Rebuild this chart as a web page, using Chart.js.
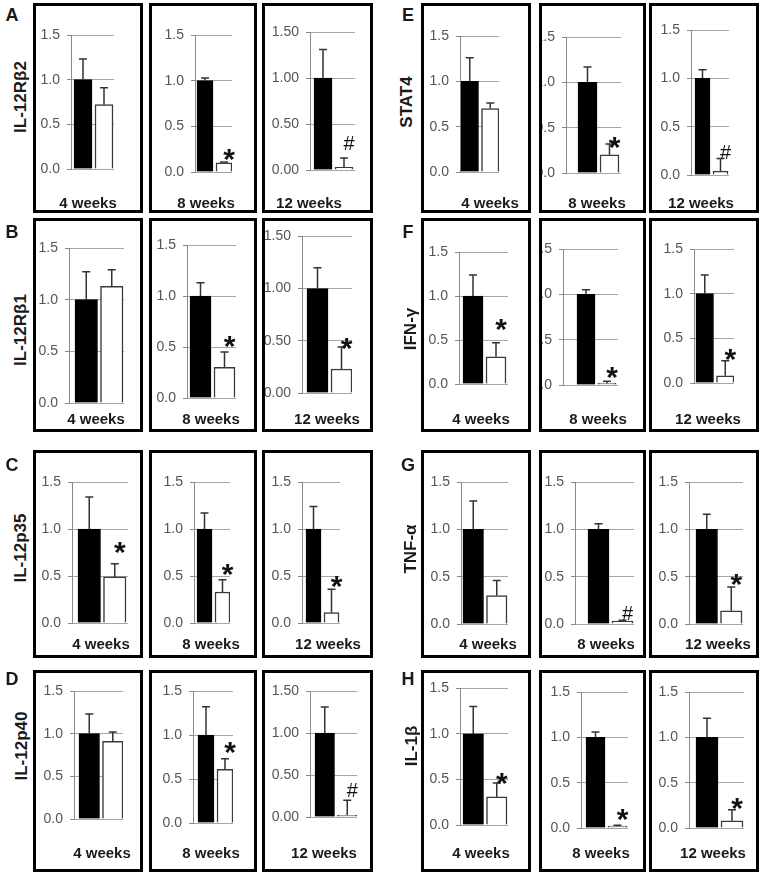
<!DOCTYPE html>
<html>
<head>
<meta charset="utf-8">
<script src="https://cdn.jsdelivr.net/npm/chart.js@4.4.1/dist/chart.umd.min.js"></script>
<style>
  html, body { margin: 0; padding: 0; background: #fff; }
  #fig { position: relative; width: 762px; height: 874px; overflow: hidden; font-family: "Liberation Sans", Arial, sans-serif; }
  .box { position: absolute; border: 3px solid #000; box-sizing: border-box; }
  .box canvas { position: absolute; left: 0; top: 0; }
  .txt { position: absolute; white-space: nowrap; font-weight: bold; color: #1a1a1a; line-height: 1; transform: translate(-50%, -50%); }
  .gene { font-size: 17px; transform: translate(-50%, -50%) rotate(-90deg); }
  .letter { font-size: 18px; }
  .wk { font-size: 15px; }
</style>
</head>
<body>
<div id="fig"></div>
<script>
// ---- data ----
const genes = ['IL-12Rβ2', 'IL-12Rβ1', 'IL-12p35', 'IL-12p40', 'STAT4', 'IFN-γ', 'TNF-α', 'IL-1β'];
const letters = ['A', 'B', 'C', 'D', 'E', 'F', 'G', 'H'];
const weeks = ['4 weeks', '8 weeks', '12 weeks'];
const groups = ['black', 'white'];
const yTicks = [0, 0.5, 1.0, 1.5];
const tickDecimals = [[1,1,2],[1,1,2],[1,1,1],[1,1,2],[1,1,1],[1,1,1],[1,1,1],[1,1,1]];

const blackMean = [[1,1,1],[1,1,1],[1,1,1],[1,1,1],[1,1,1],[1,1,1],[1,1,1],[1,1,1]];
const blackErr  = [[0.23,0.03,0.31],[0.27,0.13,0.20],[0.34,0.17,0.24],[0.23,0.32,0.31],
                   [0.26,0.17,0.09],[0.24,0.05,0.21],[0.30,0.06,0.16],[0.30,0.06,0.21]];
const whiteMean = [[0.72,0.10,0.03],[1.13,0.30,0.23],[0.49,0.33,0.11],[0.91,0.61,0.02],
                   [0.70,0.20,0.04],[0.31,0.02,0.08],[0.30,0.03,0.14],[0.31,0.02,0.08]];
const whiteErr  = [[0.19,0.01,0.10],[0.16,0.15,0.21],[0.14,0.13,0.25],[0.11,0.12,0.18],
                   [0.06,0.12,0.13],[0.16,0.02,0.17],[0.16,0.01,0.25],[0.15,0.01,0.12]];
const marks  = [['','*','#'],['','*','*'],['*','*','*'],['','*','#'],
                ['','*','#'],['*','*','*'],['','#','*'],['*','*','*']];
const markAt = [[0,0.19,0.29],[0,0.55,0.47],[0.80,0.56,0.44],[0,0.85,0.32],
                [0,0.33,0.24],[0.67,0.13,0.31],[0,0.12,0.46],[0.51,0.14,0.26]];

// ---- layout (page pixels) ----
const colX = [[33,149,262],[421,539,649]];
const colW = [[110,108,111],[110,107,110]];
const rowY = [3,218,450,670];
const rowH = [210,214,208,202];
const wkY = [202,418,643,852];
const letterX = [12,408], letterY = [15,232,465,679];
const geneX = [20,20,20,21,406,410,410,411], geneY = [97,330,548,746,102,329,549,746];
// per panel: axis x, grid end x, black bar left, white bar right, y of 1.5, y of 0, week label x
const geom = [
  [[71,114,74,113,35,169,88],[195,232,197,232,35,172,206],[310,355,314,353,32,170,309]],
  [[69,124,75,123,248,403,96],[187,236,190,235,245,398,211],[302,352,307,352,235,393,327]],
  [[72,128,78,126,482,623,101],[194,230,197,230,482,623,211],[302,340,306,339,482,623,328]],
  [[74,123,79,123,691,819,102],[193,233,198,233,691,823,211],[310,357,315,357,691,817,324]],
  [[460,499,461,499,36,172,490],[566,621,578,619,37,173,597],[691,729,695,728,30,175,701]],
  [[459,508,463,506,252,384,481],[563,618,577,616,249,385,598],[694,734,696,734,249,383,708]],
  [[461,508,463,507,482,624,488],[575,634,588,633,482,624,606],[689,743,696,742,482,624,718]],
  [[460,508,463,507,688,825,481],[581,628,586,627,692,828,601],[689,744,696,743,692,828,713]]
];

const FONT = '"Liberation Sans", Arial, sans-serif';
Chart.defaults.font.family = FONT;
const fig = document.getElementById('fig');

function addText(text, cls, x, y) {
  const d = document.createElement('div');
  d.className = 'txt ' + cls;
  d.textContent = text;
  d.style.left = x + 'px';
  d.style.top = y + 'px';
  fig.appendChild(d);
}

// error bars + significance mark
const errorBars = {
  id: 'errorBars',
  afterDatasetsDraw(chart) {
    const { ctx, scales: { y } } = chart;
    const ds = chart.data.datasets[0];
    const bars = chart.getDatasetMeta(0).data;
    ctx.save();
    ctx.strokeStyle = '#333';
    ctx.lineWidth = 1.5;
    bars.forEach((bar, i) => {
      const top = y.getPixelForValue(ds.data[i].y + ds.errors[i]);
      ctx.beginPath();
      ctx.moveTo(bar.x, bar.y);
      ctx.lineTo(bar.x, top);
      ctx.moveTo(bar.x - 4, top);
      ctx.lineTo(bar.x + 4, top);
      ctx.stroke();
    });
    const m = ds.mark;
    if (m.text) {
      const bar = bars[1];
      ctx.fillStyle = '#111';
      ctx.font = m.text === '*' ? 'bold 30px ' + FONT : '20px ' + FONT;
      ctx.textAlign = 'center';
      ctx.textBaseline = 'alphabetic';
      const tm = ctx.measureText(m.text);
      const cy = y.getPixelForValue(m.at);
      ctx.fillText(m.text, bar.x + 5, cy + (tm.actualBoundingBoxAscent - tm.actualBoundingBoxDescent) / 2);
    }
    ctx.restore();
  }
};

genes.forEach((gene, g) => {
  const col = g < 4 ? 0 : 1, row = g % 4;
  addText(letters[g], 'letter', letterX[col], letterY[row]);
  addText(gene, 'gene', geneX[g], geneY[g]);

  weeks.forEach((wk, w) => {
    const [ax, end, bl, wr, top, bot, lx] = geom[g][w];
    const bx = colX[col][w], by = rowY[row], bw = colW[col][w], bh = rowH[row];
    const box = document.createElement('div');
    box.className = 'box';
    Object.assign(box.style, { left: bx + 'px', top: by + 'px', width: bw + 'px', height: bh + 'px' });
    fig.appendChild(box);

    const ox = bx + 3, oy = by + 3, cw = bw - 6, ch = bh - 6;
    const cv = document.createElement('canvas');
    cv.width = cw; cv.height = ch;
    cv.style.width = cw + 'px'; cv.style.height = ch + 'px';
    box.appendChild(cv);

    const barW = (wr - bl - 3) / 2;
    const bc = bl + barW / 2, wc = wr - barW / 2, step = wc - bc;

    new Chart(cv, {
      type: 'bar',
      data: {
        datasets: [{
          data: groups.map((_, i) => ({ x: i, y: i ? whiteMean[g][w] : blackMean[g][w] })),
          errors: [blackErr[g][w], whiteErr[g][w]],
          mark: { text: marks[g][w], at: markAt[g][w] },
          backgroundColor: ['#000', '#fff'],
          borderColor: ['#000', '#3a3a3a'],
          borderWidth: [1, 1.5],
          barThickness: barW
        }]
      },
      options: {
        responsive: false,
        animation: false,
        devicePixelRatio: 1,
        layout: { padding: { left: 0, right: ox + cw - end, top: top - oy, bottom: oy + ch - bot } },
        plugins: { legend: { display: false }, tooltip: { enabled: false } },
        scales: {
          x: { type: 'linear', display: false, offset: false, min: (ax - bc) / step, max: 1 + (end - wc) / step },
          y: {
            min: 0, max: 1.5,
            afterFit: s => { s.width = ax - ox; },
            afterBuildTicks: s => { s.ticks = yTicks.map(v => ({ value: v })); },
            ticks: { callback: v => v.toFixed(tickDecimals[g][w]), color: '#555', font: { size: 14 }, padding: 7 },
            grid: { color: '#a6a6a6', lineWidth: 1, tickLength: 4, tickColor: '#888' },
            border: { color: '#8a8a8a', width: 1 }
          }
        }
      },
      plugins: [errorBars]
    });

    addText(wk, 'wk', lx, wkY[row]);
  });
});
</script>
</body>
</html>
